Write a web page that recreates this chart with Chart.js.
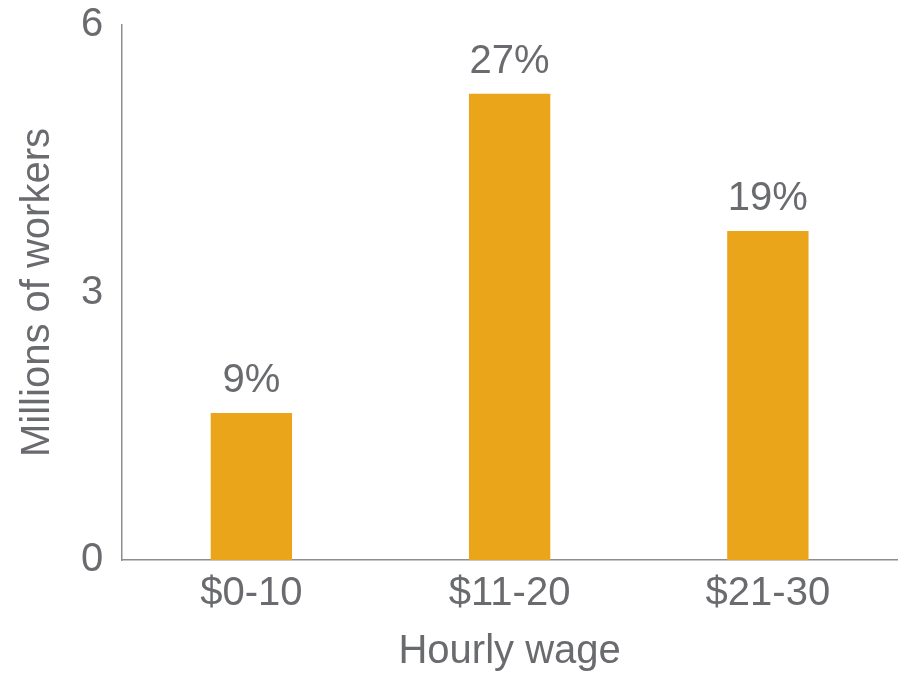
<!DOCTYPE html>
<html lang="en">
  <head>
    <meta charset="UTF-8" />
    <title>Workers by hourly wage</title>
    <style>
      html, body {
        margin: 0;
        padding: 0;
        background: #ffffff;
      }
      #wrap {
        position: relative;
        width: 920px;
        height: 700px;
      }
    </style>
  </head>
  <body>
    <div id="wrap">
      <canvas id="wageChart" width="920" height="700"></canvas>
    </div>
    <script src="https://cdn.jsdelivr.net/npm/chart.js@4.4.2/dist/chart.umd.min.js"></script>
    <script>
      // Values
      const wageBands = ["$0-10", "$11-20", "$21-30"];
      const workersMillions = [1.65, 5.23, 3.69];
      const shareLabels = ["9%", "27%", "19%"];
      const yTicks = [0, 3, 6];

      const textGray = "#6a6b6e";
      const axisGray = "#8e8e8e";
      const barGold = "#eaa51a";
      const fontFamily = "'Liberation Sans', Arial, sans-serif";

      // Percent share printed above each bar
      const barLabels = {
        id: "barLabels",
        afterDatasetsDraw(chart) {
          const { ctx } = chart;
          const meta = chart.getDatasetMeta(0);
          ctx.save();
          ctx.font = "40px " + fontFamily;
          ctx.fillStyle = textGray;
          ctx.textAlign = "center";
          ctx.textBaseline = "bottom";
          meta.data.forEach((bar, i) => {
            ctx.fillText(shareLabels[i], bar.x, bar.y - 12);
          });
          ctx.restore();
        },
      };

      const ctx = document.getElementById("wageChart").getContext("2d");

      new Chart(ctx, {
        type: "bar",
        data: {
          labels: wageBands,
          datasets: [
            {
              data: workersMillions,
              backgroundColor: barGold,
              borderWidth: 0,
              barPercentage: 0.315,
              categoryPercentage: 1,
            },
          ],
        },
        options: {
          responsive: false,
          animation: false,
          events: [],
          layout: { padding: { left: 0, right: 23, top: 0, bottom: 18 } },
          plugins: {
            legend: { display: false },
            tooltip: { enabled: false },
          },
          scales: {
            x: {
              grid: { display: false, drawTicks: false },
              border: { display: true, color: axisGray, width: 1.5 },
              ticks: {
                color: textGray,
                padding: 10,
                font: { family: fontFamily, size: 40 },
              },
              title: {
                display: true,
                text: "Hourly wage",
                color: textGray,
                font: { family: fontFamily, size: 40 },
                padding: { top: 0, bottom: 6 },
              },
            },
            y: {
              min: 0,
              max: 6,
              afterBuildTicks(axis) {
                axis.ticks = yTicks.map((v) => ({ value: v }));
              },
              grid: { display: false, drawTicks: false },
              border: { display: true, color: axisGray, width: 1.5 },
              ticks: {
                color: textGray,
                padding: 19,
                font: { family: fontFamily, size: 40, lineHeight: 0.3 },
              },
              title: {
                display: true,
                text: "Millions of workers",
                color: textGray,
                font: { family: fontFamily, size: 40 },
                padding: { top: 14, bottom: 0 },
              },
            },
          },
        },
        plugins: [barLabels],
      });
    </script>
  </body>
</html>
